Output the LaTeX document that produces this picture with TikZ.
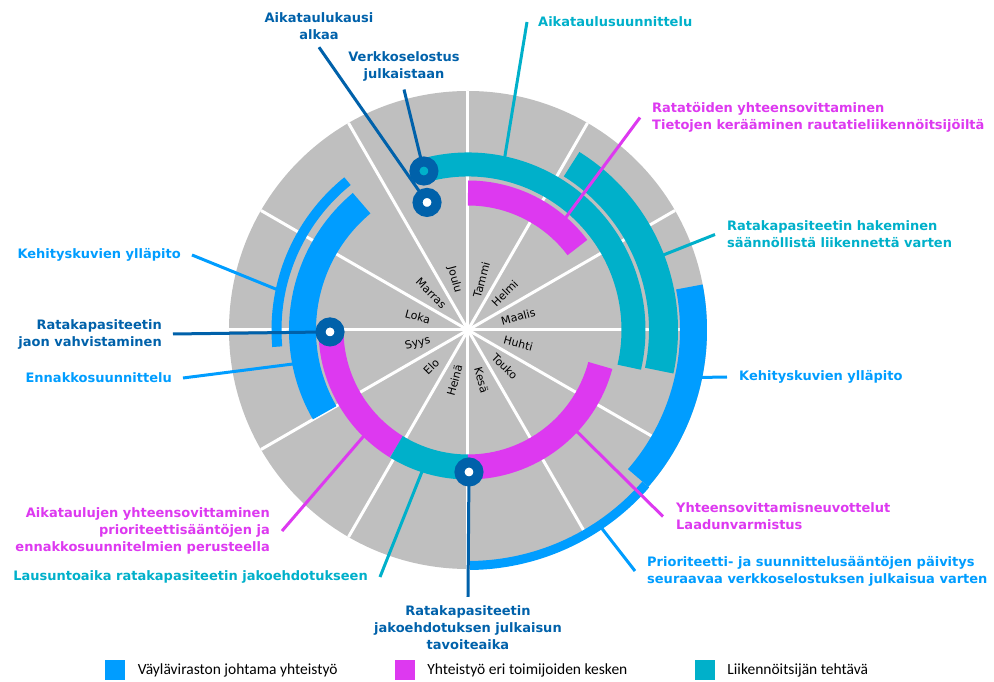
\documentclass[tikz,border=0pt]{standalone}
\usepackage{fontspec}
\setmainfont{DejaVu Sans}
\newfontfamily\legendfont{Carlito}
\usetikzlibrary{calc,positioning}

\definecolor{vaylablue}{RGB}{0,157,255}
\definecolor{yhteismagenta}{RGB}{221,57,240}
\definecolor{liikenneteal}{RGB}{0,176,202}
\definecolor{markerblue}{RGB}{0,97,170}
\definecolor{wheelgray}{RGB}{191,191,191}

% colour, radius, width, from, to
\newcommand{\band}[5]{
  \draw[#1,line width=#3] (#4:#2) arc[start angle=#4,end angle=#5,radius=#2];
}

\begin{document}
\begin{tikzpicture}[x=1pt,y=1pt,
  leader/.style={line width=3pt},
  callout/.style={font=\bfseries\fontsize{13}{17}\selectfont,inner sep=0pt},
  marker/.style={circle,draw=markerblue,line width=10pt,minimum size=19pt,inner sep=0pt,fill=white},
  month/.style={font=\fontsize{11}{13}\selectfont,inner sep=0pt},
  swatch/.style={minimum size=20pt,inner sep=0pt},
  key/.style={font=\legendfont\fontsize{15.5}{18}\selectfont,inner sep=0pt},
  ]
  \useasboundingbox (-468,-352) rectangle (526,330);

  % wheel
  \coordinate (hub) at (0,0);
  \fill[wheelgray] (hub) circle[radius=239pt];
  \foreach \a in {0,30,...,330}
    \draw[white,line width=3pt] (hub) -- (\a:239pt);

  \foreach \m [count=\i] in {Tammi,Helmi,Maalis,Huhti,Touko,Kesä,Heinä,Elo,Syys,Loka,Marras,Joulu}{
    \pgfmathsetmacro\ang{105-30*\i}
    \pgfmathsetmacro\rot{cos(\ang)<0 ? \ang+180 : \ang}
    \node[month,rotate=\rot] (month-\i) at (\ang:52pt) {\m};
  }

  % inner ring
  \band{yhteismagenta}{137pt}{25pt}{90}{37}
  \band{yhteismagenta}{137pt}{25pt}{180}{238.5}
  \band{liikenneteal}{137pt}{25pt}{238.5}{270}
  \band{yhteismagenta}{137pt}{25pt}{270}{345}
  % second ring
  \band{liikenneteal}{165.5pt}{24pt}{105}{-13}
  \band{vaylablue}{165.5pt}{27pt}{130}{210}
  % third ring
  \band{liikenneteal}{195.5pt}{29pt}{58}{-12}
  \band{vaylablue}{191.5pt}{10pt}{129}{185}
  % outer ring
  \band{vaylablue}{225.5pt}{27pt}{11}{-41}
  \band{vaylablue}{235.5pt}{9pt}{-41}{-89.5}

  \coordinate (pin-verkkoselostus) at (105.5:165pt);
  \coordinate (pin-aikataulukausi) at (107.8:134pt);
  \coordinate (pin-jaon) at (180.8:138pt);
  \coordinate (pin-jakoehdotus) at (-89.6:142pt);

  \coordinate (tip-aikataulusuunnittelu) at (78:177pt);
  \coordinate (tip-ratatoiden) at (49:149pt);
  \coordinate (tip-hakeminen) at (21:209pt);
  \coordinate (tip-kehitys-oikea) at (-11.5:238pt);
  \coordinate (tip-neuvottelut) at (-43:149pt);
  \coordinate (tip-prioriteetti) at (-56:239pt);
  \coordinate (tip-lausuntoaika) at (252:149pt);
  \coordinate (tip-aikataulujen) at (225.5:149pt);
  \coordinate (tip-ennakko) at (191:178pt);
  \coordinate (tip-kehitys-vasen) at (168:196pt);

  % labels
  \node[callout,markerblue,align=center] (label-aikataulukausi) at (-149,303.5) {Aikataulukausi\\alkaa};
  \node[callout,markerblue,align=center] (label-verkkoselostus) at (-64,263.5) {Verkkoselostus\\julkaistaan};
  \node[callout,liikenneteal,anchor=west] (label-aikataulusuunnittelu) at (70,308) {Aikataulusuunnittelu};
  \node[callout,yhteismagenta,anchor=west,align=left] (label-ratatoiden) at (184,212.5) {Ratatöiden yhteensovittaminen\\Tietojen kerääminen rautatieliikennöitsijöiltä};
  \node[callout,liikenneteal,anchor=west,align=left] (label-hakeminen) at (259,95.5) {Ratakapasiteetin hakeminen\\säännöllistä liikennettä varten};
  \node[callout,vaylablue,anchor=west] (label-kehitys-oikea) at (271,-47) {Kehityskuvien ylläpito};
  \node[callout,yhteismagenta,anchor=west,align=left] (label-neuvottelut) at (208,-186.5) {Yhteensovittamisneuvottelut\\Laadunvarmistus};
  \node[callout,vaylablue,anchor=west,align=left] (label-prioriteetti) at (179,-241) {Prioriteetti- ja suunnittelusääntöjen päivitys\\seuraavaa verkkoselostuksen julkaisua varten};
  \node[callout,markerblue,align=center] (label-jakoehdotus) at (0,-298) {Ratakapasiteetin\\jakoehdotuksen julkaisun\\tavoiteaika};
  \node[callout,liikenneteal,anchor=east] (label-lausuntoaika) at (-100,-247) {Lausuntoaika ratakapasiteetin jakoehdotukseen};
  \node[callout,yhteismagenta,anchor=east,align=right] (label-aikataulujen) at (-198,-201) {Aikataulujen yhteensovittaminen\\prioriteettisääntöjen ja\\ennakkosuunnitelmien perusteella};
  \node[callout,vaylablue,anchor=east] (label-ennakko) at (-296,-48) {Ennakkosuunnittelu};
  \node[callout,markerblue,anchor=east,align=right] (label-jaon) at (-306,-4) {Ratakapasiteetin\\jaon vahvistaminen};
  \node[callout,vaylablue,anchor=east] (label-kehitys-vasen) at (-287,75) {Kehityskuvien ylläpito};

  % leaders
  \draw[leader,markerblue] ([yshift=-7pt]label-aikataulukausi.south) -- (pin-aikataulukausi);
  \draw[leader,markerblue] ([yshift=-8pt]label-verkkoselostus.south) -- (pin-verkkoselostus);
  \draw[leader,markerblue] ([xshift=11pt]label-jaon.east) -- (pin-jaon);
  \draw[leader,markerblue] (pin-jakoehdotus) -- ([yshift=9pt]label-jakoehdotus.north);
  \draw[leader,liikenneteal] ([xshift=-11pt]label-aikataulusuunnittelu.west) -- (tip-aikataulusuunnittelu);
  \draw[leader,yhteismagenta] ([xshift=-12pt]label-ratatoiden.west) -- (tip-ratatoiden);
  \draw[leader,liikenneteal] ([xshift=-12pt]label-hakeminen.west) -- (tip-hakeminen);
  \draw[leader,vaylablue] ([xshift=-12pt]label-kehitys-oikea.west) -- (tip-kehitys-oikea);
  \draw[leader,yhteismagenta] ([xshift=-13pt]label-neuvottelut.west) -- (tip-neuvottelut);
  \draw[leader,vaylablue] ([xshift=-12pt]label-prioriteetti.west) -- (tip-prioriteetti);
  \draw[leader,liikenneteal] ([xshift=12pt]label-lausuntoaika.east) -- (tip-lausuntoaika);
  \draw[leader,yhteismagenta] ([xshift=12pt]label-aikataulujen.east) -- (tip-aikataulujen);
  \draw[leader,vaylablue] ([xshift=11pt]label-ennakko.east) -- (tip-ennakko);
  \draw[leader,vaylablue] ([xshift=11pt]label-kehitys-vasen.east) -- (tip-kehitys-vasen);

  % markers
  \node[marker,fill=liikenneteal] (marker-verkkoselostus) at (pin-verkkoselostus) {};
  \node[marker] (marker-aikataulukausi) at (pin-aikataulukausi) {};
  \node[marker] (marker-jaon) at (pin-jaon) {};
  \node[marker] (marker-jakoehdotus) at (pin-jakoehdotus) {};

  % legend
  \node[swatch,fill=vaylablue] (swatch-vayla) at (-352.5,-340) {};
  \node[key,right=12pt of swatch-vayla] (key-vayla) {Väyläviraston johtama yhteistyö};
  \node[swatch,fill=yhteismagenta] (swatch-yhteistyo) at (-63,-340) {};
  \node[key,right=12pt of swatch-yhteistyo] (key-yhteistyo) {Yhteistyö eri toimijoiden kesken};
  \node[swatch,fill=liikenneteal] (swatch-liikenne) at (237,-340) {};
  \node[key,right=12pt of swatch-liikenne] (key-liikenne) {Liikennöitsijän tehtävä};
\end{tikzpicture}
\end{document}
